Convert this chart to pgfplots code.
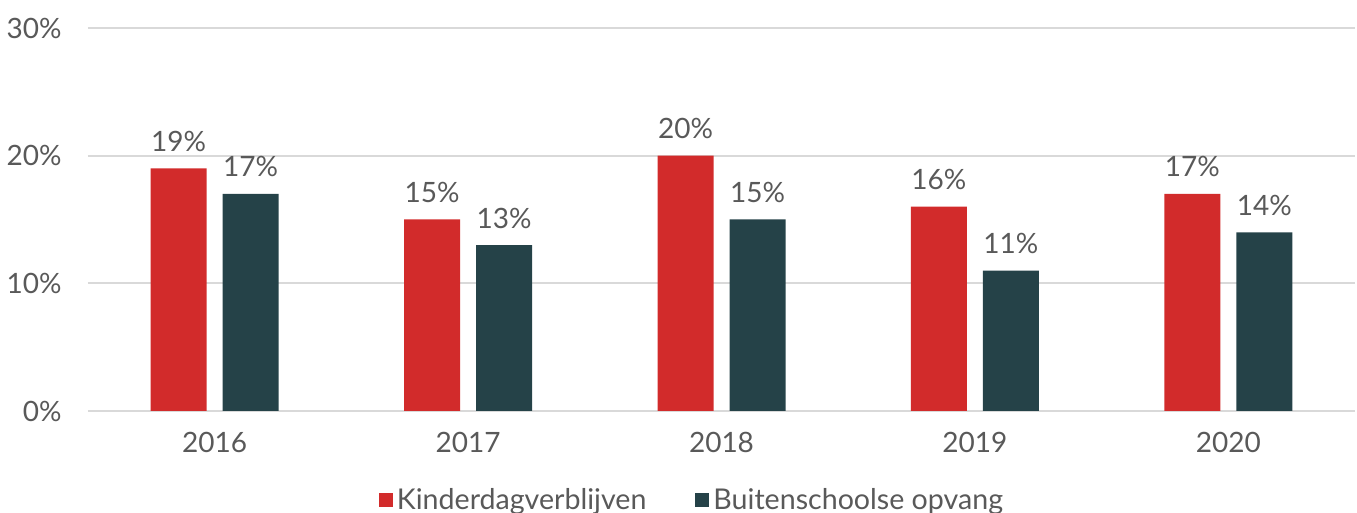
\documentclass[border=0pt]{standalone}
\usepackage{pgfplots}
\pgfplotsset{compat=1.18}
\usepackage{fontspec}
\setmainfont{Lato}
\definecolor{cred}{HTML}{D22B2B}
\definecolor{cdark}{HTML}{254248}
\definecolor{ctext}{HTML}{595959}
\definecolor{cgrid}{HTML}{D9D9D9}
\begin{document}
\begin{tikzpicture}
\useasboundingbox (-44pt,-51pt) rectangle (634.5pt,205.5pt);
\begin{axis}[
  at={(0,0)}, anchor=south west,
  scale only axis,
  width=633.5pt, height=191.5pt,
  xmin=-0.5, xmax=4.5, ymin=0, ymax=30,
  /pgf/number format/assume math mode=true,
  xtick={0,1,2,3,4},
  xticklabels={2016,2017,2018,2019,2020},
  ytick={0,10,20,30},
  yticklabels={0\%,10\%,20\%,30\%},
  major tick length=0pt,
  ymajorgrids,
  grid style={cgrid, line width=1pt},
  axis x line*=bottom,
  axis y line*=left,
  x axis line style={draw=cgrid, line width=1pt},
  y axis line style={draw=none},
  ytick style={draw=none}, xtick style={draw=none},
  yticklabel style={anchor=east, inner sep=0pt, xshift=-13pt, text=ctext, font=\fontsize{14}{16}\selectfont},
  xticklabel style={anchor=base, inner sep=0pt, yshift=-20.75pt, text=ctext, font=\fontsize{14}{16}\selectfont},
  ybar, bar width=28pt,
  nodes near coords={\pgfmathprintnumber{\pgfplotspointmeta}\%},
  every node near coord/.append style={anchor=base, inner sep=0pt, yshift=8.5pt, text=ctext, font=\fontsize{14}{16}\selectfont},
  legend columns=2,
  legend style={at={(0.4775,-0.2324)}, anchor=center, draw=none, fill=none,
    font=\fontsize{14.3}{16}\selectfont, text=ctext,
    /tikz/every even column/.append style={column sep=22.5pt},
    inner sep=0pt},
  legend image code/.code={\fill[#1] (0pt,-3.5pt) rectangle (7pt,3.5pt);},
]
\addplot[fill=cred, draw=none, bar shift=-18pt] coordinates {(0,19) (1,15) (2,20) (3,16) (4,17)};
\addplot[fill=cdark, draw=none, bar shift=18pt] coordinates {(0,17) (1,13) (2,15) (3,11) (4,14)};
\legend{Kinderdagverblijven, Buitenschoolse opvang}
\end{axis}
\end{tikzpicture}
\end{document}
